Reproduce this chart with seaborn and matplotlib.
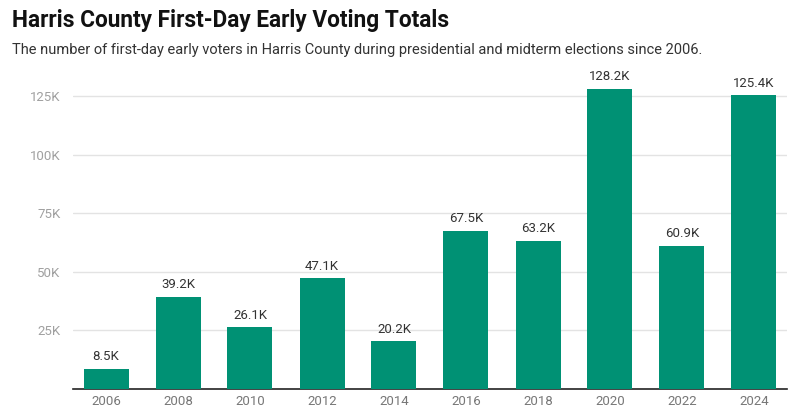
import matplotlib
matplotlib.use("Agg")
import matplotlib.pyplot as plt
import seaborn as sns
import pandas as pd

# data
years = ["2006", "2008", "2010", "2012", "2014", "2016", "2018", "2020", "2022", "2024"]
voters = [8.5, 39.2, 26.1, 47.1, 20.2, 67.5, 63.2, 128.2, 60.9, 125.4]  # thousands
y_ticks = [25, 50, 75, 100, 125]

df = pd.DataFrame({"year": years, "voters": voters})

sns.set_theme(style="white")
plt.rcParams["font.family"] = ["Roboto", "DejaVu Sans"]

fig = plt.figure(figsize=(8.06, 4.12), dpi=100)
ax = fig.add_axes([73 / 806, 1 - 388.5 / 412, 714 / 806, (388.5 - 72) / 412])

sns.barplot(data=df, x="year", y="voters", color="#009174", width=0.625,
            saturation=1, linewidth=0, ax=ax, zorder=3)

ax.set_ylim(0, 135.3)
ax.set_xlim(-0.5 + 3 / 72, 9.5 - 3 / 72)
ax.set_yticks(y_ticks)
ax.set_yticklabels([f"{t}K" for t in y_ticks])
ax.grid(axis="y", color="#e3e3e3", linewidth=1, zorder=0)
ax.set_xlabel("")
ax.set_ylabel("")
for s in ["top", "right", "left"]:
    ax.spines[s].set_visible(False)
ax.spines["bottom"].set_color("#222222")
ax.spines["bottom"].set_linewidth(1.2)
ax.tick_params(axis="y", length=0, pad=9, labelsize=9.5, labelcolor="#a0a0a0")
ax.tick_params(axis="x", length=0, pad=5, labelsize=9.5, labelcolor="#777777")

for i, v in enumerate(voters):
    ax.annotate(f"{v:.1f}K", (i, v), xytext=(0, 4), textcoords="offset points",
                ha="center", va="bottom", fontsize=9.5, color="#333333")

fig.text(12 / 806, 1 - 20 / 412, "Harris County First-Day Early Voting Totals",
         fontsize=16.3, fontweight="bold", color="#111111", va="center",
         fontstretch="condensed")
fig.text(12 / 806, 1 - 50 / 412,
         "The number of first-day early voters in Harris County during presidential and midterm elections since 2006.",
         fontsize=10.5, color="#333333", va="center")

fig.savefig("out.png", dpi=100, facecolor="white")
